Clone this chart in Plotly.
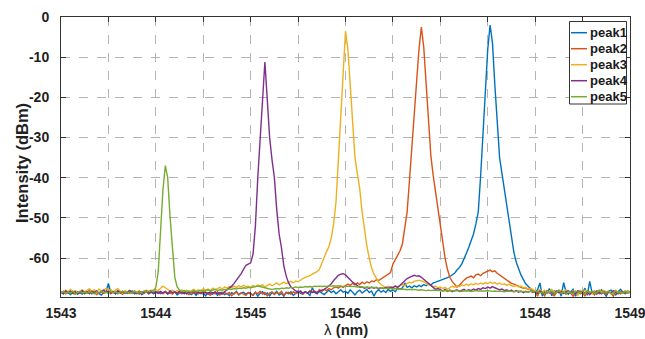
import numpy as np
import plotly.graph_objects as go

# ---------------- data ----------------
lambda_start = 1543.0   # nm, sampling grid of the spectra
lambda_step = 0.025     # nm
series_names = ["peak1", "peak2", "peak3", "peak4", "peak5"]

peak1 = [
    -68.4,-68.9,-68.2,-68.7,-69.1,-68.5,-68.3,-68.8,-68.6,-69.0,
    -68.4,-68.7,-68.2,-68.9,-68.5,-68.3,-68.8,-69.2,-68.6,-68.4,
    -66.3,-68.7,-68.5,-68.9,-68.3,-68.6,-69.0,-68.4,-68.8,-68.5,
    -68.2,-68.9,-68.6,-68.3,-69.1,-68.7,-68.4,-68.8,-68.5,-68.9,
    -68.6,-68.4,-68.9,-68.7,-68.3,-69.0,-68.6,-68.8,-68.4,-69.2,
    -68.7,-68.5,-68.9,-68.3,-68.8,-69.1,-68.6,-69.3,-68.5,-68.9,
    -68.7,-69.4,-68.6,-68.8,-69.0,-68.4,-69.3,-68.7,-68.5,-69.1,
    -68.8,-69.4,-68.6,-68.9,-68.3,-69.2,-68.7,-68.5,-69.0,-68.6,
    -68.9,-69.3,-68.5,-69.5,-68.8,-68.4,-69.1,-68.7,-69.4,-68.6,
    -68.9,-68.3,-69.2,-68.8,-69.5,-68.5,-68.9,-68.4,-69.3,-68.7,
    -68.2,-68.8,-69.0,-68.4,-68.7,-69.3,-67.4,-68.6,-68.9,-68.3,
    -68.7,-69.1,-68.5,-68.0,-68.6,-68.2,-68.9,-68.4,-67.9,-68.5,
    -68.3,-68.8,-67.9,-68.5,-69.2,-68.4,-68.0,-68.7,-68.3,-67.8,
    -68.6,-68.2,-69.5,-68.4,-67.9,-68.5,-68.1,-68.6,-67.8,-68.3,
    -67.9,-68.4,-67.5,-67.8,-67.4,-66.2,-67.3,-67.0,-67.4,-66.9,
    -67.2,-66.8,-67.1,-66.6,-66.9,-66.4,-66.7,-66.2,-66.0,-65.8,
    -65.7,-65.5,-65.2,-64.9,-64.6,-64.2,-63.8,-63.0,-62.4,-61.5,
    -60.3,-58.8,-57.3,-55.8,-54.0,-51.5,-48.5,-39.5,-28.0,-18.0,
    -8.0,-2.0,-6.5,-17.0,-27.0,-35.0,-39.0,-43.0,-47.0,-50.5,
    -55.0,-58.5,-61.0,-62.8,-64.2,-65.3,-66.4,-67.0,-67.6,-68.2,
    -68.5,-67.9,-66.2,-69.5,-68.3,-68.8,-67.6,-69.4,-68.2,-68.6,
    -68.0,-69.5,-66.1,-68.4,-69.0,-68.3,-67.8,-69.5,-68.5,-68.1,
    -68.7,-67.5,-69.3,-65.8,-68.6,-68.2,-69.0,-68.4,-67.9,-68.7,
    -69.5,-68.3,-68.0,-68.6,-69.2,-68.4,-67.8,-68.5,-68.9,-68.2,
    -68.4,
]

peak2 = [
    -68.7,-68.3,-68.9,-68.5,-68.1,-68.8,-69.0,-68.4,-68.6,-68.2,
    -68.9,-68.5,-68.0,-68.7,-68.4,-69.1,-68.6,-68.3,-68.8,-68.5,
    -68.2,-68.9,-68.4,-68.7,-68.1,-68.6,-68.9,-68.3,-68.7,-68.5,
    -68.8,-68.2,-68.6,-69.0,-68.4,-68.7,-68.3,-68.9,-68.5,-68.6,
    -68.4,-68.8,-68.5,-68.9,-68.3,-68.7,-68.6,-69.0,-68.4,-68.8,
    -68.5,-68.9,-68.3,-68.7,-69.1,-68.5,-68.8,-68.4,-68.9,-68.6,
    -69.0,-68.5,-68.8,-69.3,-68.6,-68.9,-68.4,-69.2,-68.7,-68.5,
    -69.0,-68.6,-69.4,-68.8,-68.5,-69.1,-68.7,-68.9,-69.3,-68.6,
    -68.8,-69.2,-68.5,-68.9,-68.3,-69.0,-68.6,-69.4,-68.7,-68.4,
    -69.1,-68.6,-68.9,-68.3,-69.3,-68.7,-68.5,-69.0,-68.4,-68.8,
    -68.6,-68.2,-68.9,-68.4,-68.7,-68.1,-68.5,-68.2,-68.6,-67.9,
    -68.3,-67.8,-68.1,-67.6,-67.9,-67.4,-67.2,-67.5,-67.0,-67.3,
    -66.9,-66.5,-66.8,-66.3,-66.7,-66.2,-66.6,-66.0,-66.4,-65.9,
    -66.2,-65.7,-65.9,-65.4,-65.6,-65.2,-65.0,-64.6,-64.2,-63.6,
    -61.5,-60.4,-59.3,-58.2,-56.5,-53.0,-48.5,-40.5,-33.0,-24.5,
    -16.0,-8.0,-2.5,-7.5,-16.0,-26.0,-34.5,-39.5,-43.5,-47.5,
    -52.5,-56.5,-60.0,-62.8,-64.8,-65.8,-66.6,-67.2,-66.8,-66.0,
    -65.5,-65.0,-64.8,-64.5,-64.9,-64.2,-64.0,-64.4,-63.8,-63.6,
    -63.3,-63.0,-63.4,-63.2,-63.8,-64.2,-64.6,-65.0,-65.6,-65.9,
    -66.3,-66.5,-66.8,-67.0,-67.2,-67.5,-67.4,-67.8,-67.6,-68.0,
    -68.3,-69.5,-68.1,-68.6,-69.4,-68.2,-68.7,-68.4,-69.5,-68.5,
    -68.2,-68.8,-68.4,-69.0,-68.3,-68.7,-69.5,-68.5,-68.2,-68.9,
    -68.6,-69.5,-68.3,-68.8,-68.5,-69.2,-68.4,-68.9,-68.3,-68.6,
    -69.1,-68.4,-68.7,-69.5,-68.3,-68.6,-68.9,-68.4,-68.7,-68.5,
    -68.6,
]

peak3 = [
    -68.2,-68.6,-68.0,-68.4,-67.8,-68.5,-68.1,-68.7,-68.3,-67.9,
    -68.4,-68.1,-67.6,-68.3,-67.9,-68.5,-67.7,-68.2,-68.0,-67.5,
    -68.1,-67.8,-68.4,-68.0,-67.6,-68.3,-68.7,-68.1,-68.4,-68.0,
    -68.6,-68.2,-68.5,-68.1,-68.7,-68.3,-68.0,-68.4,-68.1,-67.9,
    -67.8,-68.1,-67.5,-67.0,-67.4,-67.8,-68.2,-68.0,-68.4,-68.1,
    -68.3,-67.9,-68.4,-68.0,-68.5,-68.1,-67.8,-68.2,-67.9,-68.3,
    -67.6,-68.0,-67.7,-68.1,-67.5,-67.9,-67.6,-67.3,-67.7,-67.2,
    -67.5,-67.1,-67.4,-67.0,-67.3,-66.9,-67.2,-66.8,-67.1,-67.0,
    -67.3,-66.8,-67.1,-66.7,-67.0,-66.6,-67.2,-66.8,-66.5,-66.9,
    -66.6,-66.2,-66.7,-66.3,-66.0,-66.4,-66.1,-65.8,-66.2,-65.7,
    -65.9,-65.4,-65.1,-64.8,-64.6,-64.4,-64.0,-63.7,-63.4,-62.8,
    -61.2,-59.6,-58.4,-57.2,-55.0,-51.5,-46.0,-35.5,-25.0,-14.0,
    -3.5,-8.0,-18.0,-27.5,-35.0,-39.0,-42.8,-48.5,-53.5,-57.0,
    -60.0,-62.5,-64.0,-65.0,-66.0,-66.6,-67.1,-67.4,-67.0,-67.5,
    -67.2,-66.9,-67.3,-66.8,-66.5,-66.9,-66.3,-66.0,-66.2,-65.8,
    -65.6,-65.5,-65.7,-65.9,-66.3,-66.6,-66.9,-67.2,-67.0,-67.4,
    -67.2,-67.6,-67.3,-67.8,-67.4,-67.0,-67.3,-66.9,-67.1,-66.7,
    -66.9,-66.5,-66.8,-66.4,-66.7,-66.3,-66.6,-66.2,-66.5,-66.1,
    -66.4,-66.0,-66.3,-66.1,-66.5,-66.2,-66.6,-66.4,-66.8,-66.5,
    -66.9,-67.1,-66.8,-67.2,-67.0,-67.4,-67.3,-67.7,-67.5,-67.9,
    -68.1,-68.5,-67.9,-68.4,-68.0,-68.7,-68.2,-67.8,-68.5,-68.1,
    -68.6,-68.0,-68.4,-67.9,-68.3,-68.8,-68.2,-68.5,-69.3,-68.1,
    -68.4,-68.0,-68.7,-68.3,-69.0,-68.2,-68.6,-67.9,-68.4,-68.1,
    -68.5,-68.2,-68.8,-68.4,-68.0,-68.6,-68.3,-68.7,-68.1,-68.4,
    -68.3,
]

peak4 = [
    -68.5,-68.9,-68.2,-68.6,-68.3,-68.8,-68.4,-69.0,-68.5,-68.1,
    -68.7,-68.4,-68.9,-68.3,-68.6,-68.2,-68.8,-68.5,-68.0,-68.6,
    -68.3,-68.7,-68.4,-68.9,-68.2,-68.6,-68.3,-68.8,-68.5,-68.1,
    -68.6,-68.4,-68.9,-68.3,-68.7,-68.5,-68.2,-68.8,-68.4,-68.6,
    -68.4,-68.8,-68.3,-68.7,-68.5,-68.9,-68.2,-68.6,-68.4,-68.8,
    -68.3,-68.7,-68.5,-68.9,-68.4,-68.6,-68.2,-68.8,-68.5,-68.7,
    -68.3,-68.6,-68.9,-68.4,-68.7,-68.5,-68.8,-68.6,-69.0,-68.4,
    -68.0,-67.6,-67.0,-66.3,-65.5,-64.8,-63.9,-62.8,-61.8,-61.5,
    -61.2,-59.0,-52.0,-40.0,-31.0,-21.0,-11.2,-20.5,-30.0,-35.5,
    -40.0,-48.0,-54.0,-57.5,-62.0,-64.5,-66.2,-67.2,-67.8,-68.2,
    -68.5,-68.3,-68.7,-68.4,-68.8,-68.3,-68.6,-68.4,-68.7,-68.2,
    -68.0,-67.8,-67.4,-67.0,-66.4,-65.6,-64.9,-64.3,-64.0,-63.9,
    -64.2,-64.8,-65.5,-66.0,-66.4,-66.9,-67.3,-67.2,-67.5,-67.3,
    -67.6,-67.2,-67.5,-67.3,-67.7,-67.4,-67.6,-67.3,-67.5,-67.2,
    -67.4,-67.0,-67.3,-66.8,-66.2,-65.6,-65.1,-64.8,-64.5,-64.3,
    -64.5,-64.4,-64.8,-65.3,-65.9,-66.5,-67.0,-67.4,-67.8,-67.6,
    -67.9,-68.2,-67.8,-68.3,-68.0,-68.4,-68.1,-67.9,-68.3,-68.0,
    -67.8,-68.2,-67.9,-68.1,-67.7,-68.0,-67.6,-67.8,-67.4,-67.6,
    -67.2,-67.5,-67.1,-67.4,-67.6,-67.9,-67.7,-68.1,-67.9,-68.3,
    -68.0,-68.4,-68.1,-68.5,-68.2,-68.6,-68.3,-68.5,-68.2,-68.6,
    -68.4,-68.8,-68.2,-68.6,-69.0,-68.3,-68.7,-68.4,-68.9,-68.2,
    -68.6,-68.3,-68.8,-68.5,-68.1,-68.7,-68.4,-68.9,-68.2,-68.6,
    -68.3,-68.8,-68.5,-69.1,-68.4,-68.7,-68.2,-68.6,-68.9,-68.3,
    -68.7,-68.4,-68.8,-68.1,-68.5,-68.9,-68.3,-68.6,-68.4,-68.7,
    -68.5,
]

peak5 = [
    -68.6,-68.3,-68.8,-68.4,-68.7,-68.2,-68.9,-68.5,-68.3,-68.7,
    -68.4,-68.8,-68.3,-68.6,-68.9,-68.4,-68.7,-68.2,-68.6,-68.5,
    -68.8,-68.3,-68.7,-68.4,-68.9,-68.5,-68.2,-68.7,-68.4,-68.8,
    -68.5,-68.3,-68.7,-68.4,-68.6,-68.2,-68.5,-68.3,-68.0,-68.4,
    -67.2,-63.5,-54.0,-43.0,-37.0,-40.0,-49.8,-56.5,-64.8,-67.2,
    -68.0,-68.3,-68.1,-68.4,-68.2,-68.5,-68.1,-68.4,-68.2,-68.0,
    -68.3,-68.1,-67.9,-68.2,-68.0,-67.8,-68.1,-67.9,-68.0,-67.8,
    -67.9,-67.7,-67.8,-67.6,-67.7,-67.5,-67.6,-67.4,-67.5,-67.3,
    -67.4,-67.2,-67.1,-67.0,-67.1,-67.3,-67.5,-67.6,-67.7,-67.8,
    -67.7,-67.6,-67.7,-67.5,-67.6,-67.4,-67.5,-67.3,-67.4,-67.2,
    -67.3,-67.2,-67.3,-67.1,-67.2,-67.1,-67.2,-67.0,-67.1,-67.0,
    -67.1,-67.0,-67.1,-66.9,-67.0,-66.9,-67.0,-66.9,-67.0,-67.0,
    -67.0,-67.1,-67.0,-67.1,-67.1,-67.2,-67.1,-67.2,-67.3,-67.2,
    -67.3,-67.4,-67.3,-67.4,-67.5,-67.4,-67.5,-67.6,-67.5,-67.6,
    -67.7,-67.6,-67.7,-67.8,-67.7,-67.8,-67.9,-67.8,-67.9,-67.8,
    -67.9,-68.0,-67.9,-68.0,-68.1,-68.0,-68.1,-68.0,-68.1,-68.1,
    -68.1,-68.2,-68.1,-68.2,-68.1,-68.2,-68.2,-68.1,-68.2,-68.3,
    -68.2,-68.1,-68.2,-68.3,-68.2,-68.1,-68.2,-68.2,-68.3,-68.2,
    -68.1,-68.2,-68.3,-68.2,-68.3,-68.2,-68.3,-68.4,-68.3,-68.2,
    -68.3,-68.4,-68.3,-68.2,-68.4,-68.3,-68.4,-68.5,-68.3,-68.4,
    -68.5,-68.2,-68.7,-68.4,-68.9,-68.3,-68.6,-68.2,-68.8,-68.5,
    -68.1,-68.7,-68.4,-68.9,-68.3,-68.6,-68.8,-68.2,-68.5,-68.7,
    -68.4,-68.9,-68.2,-68.6,-68.3,-68.8,-68.5,-68.1,-68.7,-68.4,
    -68.6,-68.3,-68.9,-68.5,-68.2,-68.7,-68.4,-68.8,-68.3,-68.6,
    -68.5,
]

x_tick_values = [1543, 1543.5, 1544, 1544.5, 1545, 1545.5, 1546,
                 1546.5, 1547, 1547.5, 1548, 1548.5, 1549]
x_tick_labels = ["1543", "", "1544", "", "1545", "", "1546",
                 "", "1547", "", "1548", "", "1549"]
y_tick_values = [0, -10, -20, -30, -40, -50, -60]
y_tick_labels = ["0", "-10", "-20", "-30", "-40", "-50", "-60"]
x_title = "λ <b>(nm)</b>"
y_title = "<b>Intensity (dBm)</b>"

# ---------------- styling ----------------
colors = ["#0072BD", "#D95319", "#EDB120", "#7E2F8E", "#77AC30"]
FONT = "Arial, Liberation Sans, Helvetica, sans-serif"
W, H = 645, 339
ML, MR, MT, MB = 61, 15, 17, 42

all_series = [peak1, peak2, peak3, peak4, peak5]
fig = go.Figure()
for name, vals, col in zip(series_names, all_series, colors):
    wl = np.round(lambda_start + lambda_step * np.arange(len(vals)), 3)
    fig.add_trace(go.Scatter(x=wl, y=vals, mode="lines", name=name,
                             line=dict(color=col, width=1.4),
                             showlegend=False))

axis_common = dict(
    showgrid=True, gridcolor="#b4b4b4", griddash="dash", gridwidth=1,
    ticks="inside", ticklen=5, tickcolor="#333333",
    showline=True, linecolor="#333333", linewidth=1, mirror="allticks",
    zeroline=False, ticklabeloverflow="allow",
    tickfont=dict(family=FONT, size=14, color="#1f1f1f", weight="bold"),
)
fig.update_xaxes(range=[1543, 1549], tickvals=x_tick_values,
                 ticktext=x_tick_labels, ticklabelstandoff=3,
                 **axis_common)
fig.update_yaxes(range=[-69.7, 0], tickvals=y_tick_values,
                 ticktext=y_tick_labels, ticklabelstandoff=8,
                 **axis_common)

# ---------------- legend and axis titles ----------------
pw, ph = W - ML - MR, H - MT - MB
def px2x(px):
    return (px - ML) / pw
def py2y(py):
    return 1 - (py - MT) / ph

shapes = [dict(type="rect", xref="paper", yref="paper",
               x0=px2x(569.5), x1=px2x(626.5), y0=py2y(104), y1=py2y(21.5),
               line=dict(color="#333333", width=1), fillcolor="white",
               layer="above")]
annotations = []
for i, (name, col) in enumerate(zip(series_names, colors)):
    yy = 32.7 + i * 16.0
    shapes.append(dict(type="line", xref="paper", yref="paper",
                       x0=px2x(571), x1=px2x(587), y0=py2y(yy), y1=py2y(yy),
                       line=dict(color=col, width=1.5), layer="above"))
    annotations.append(dict(xref="paper", yref="paper", x=px2x(587.5),
                            y=py2y(yy), text="<b>%s</b>" % name,
                            showarrow=False, xanchor="left", yanchor="middle",
                            font=dict(family=FONT, size=13, color="#1a1a1a")))

annotations.append(dict(xref="paper", yref="paper", x=px2x(22), y=py2y(163),
                        text=y_title, textangle=-90, showarrow=False,
                        xanchor="center", yanchor="middle",
                        font=dict(family=FONT, size=16.5, color="#1f1f1f")))
annotations.append(dict(xref="paper", yref="paper", x=px2x(345.5),
                        y=py2y(329), text=x_title, showarrow=False,
                        xanchor="center", yanchor="middle",
                        font=dict(family=FONT, size=15, color="#1f1f1f")))

fig.update_layout(
    width=W, height=H,
    margin=dict(l=ML, r=MR, t=MT, b=MB, autoexpand=False),
    paper_bgcolor="white", plot_bgcolor="white",
    shapes=shapes, annotations=annotations,
    showlegend=False,
)

fig.write_html("out.html")
